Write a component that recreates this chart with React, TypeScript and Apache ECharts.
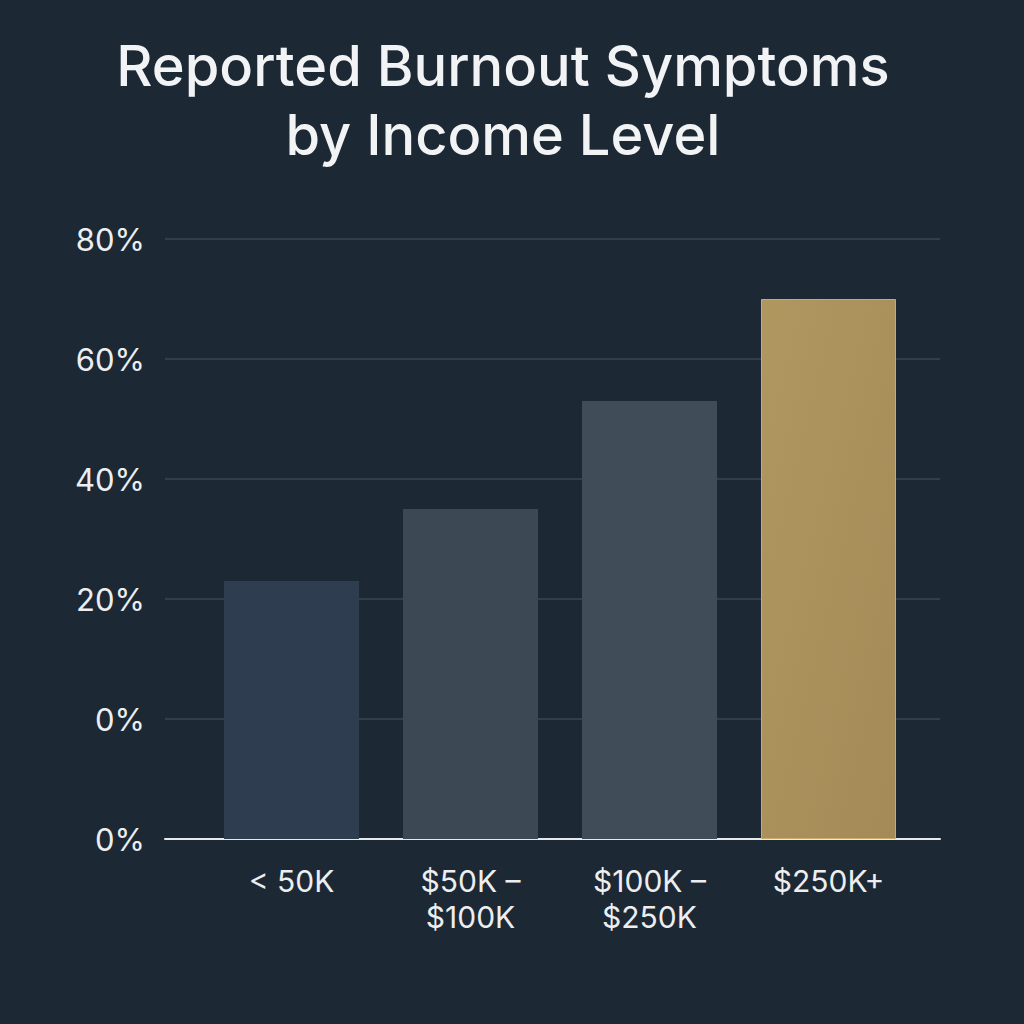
import { useEffect, useRef } from 'react';
import * as echarts from 'echarts';

const incomeLevels = ['< 50K', '$50K –\n$100K', '$100K –\n$250K', '$250K+'];
// share reporting burnout, read against the printed tick labels
const burnoutPct = [23, 35, 53, 70];
// the printed axis repeats "0%", so every label sits one step (20) above its position
const yTickLabels = ['0%', '0%', '20%', '40%', '60%', '80%'];
const AXIS_STEP = 20;

const barColors = ['#2e3d4f', '#3c4954', '#404d58'];

export default function App() {
  const chartRef = useRef<HTMLDivElement>(null);

  useEffect(() => {
    if (!chartRef.current) return;
    const chart = echarts.init(chartRef.current, null, { renderer: 'svg' });

    const font = 'Inter, "Noto Sans", sans-serif';
    const gridTop = 239;
    const gridBottom = 185;

    chart.setOption({
      animation: false,
      backgroundColor: '#1d2835',
      title: {
        text: 'Reported Burnout Symptoms\nby Income Level',
        // centre of the title sits a little left of the page centre
        left: 498,
        textAlign: 'center',
        top: 26,
        textStyle: {
          color: '#f2f3f4',
          fontFamily: font,
          fontSize: 56,
          fontWeight: 500,
          lineHeight: 69,
        },
      },
      grid: [
        // frame grid: gridlines, y labels and baseline
        { left: 165, right: 84, top: gridTop, bottom: gridBottom },
        // bar grid: narrower so the bands line up with the bars
        { left: 202, right: 106, top: gridTop, bottom: gridBottom },
      ],
      xAxis: [
        {
          type: 'category',
          gridIndex: 0,
          data: incomeLevels,
          axisLine: { show: true, lineStyle: { color: '#e6e8ea', width: 2 } },
          axisTick: { show: false },
          axisLabel: { show: false },
        },
        {
          type: 'category',
          gridIndex: 1,
          data: incomeLevels,
          axisLine: { show: false },
          axisTick: { show: false },
          axisLabel: {
            color: '#eceef0',
            fontFamily: font,
            fontSize: 30,
            lineHeight: 36,
            margin: 24,
          },
        },
      ],
      yAxis: [
        {
          type: 'value',
          gridIndex: 0,
          min: 0,
          max: 100,
          interval: AXIS_STEP,
          axisLine: { show: false },
          axisTick: { show: false },
          axisLabel: {
            color: '#eceef0',
            fontFamily: font,
            fontSize: 31,
            margin: 20,
            formatter: (v: number) => yTickLabels[Math.round(v / AXIS_STEP)],
          },
          splitLine: { lineStyle: { color: '#3a4655', width: 1.5 } },
        },
        {
          type: 'value',
          gridIndex: 1,
          min: 0,
          max: 100,
          interval: AXIS_STEP,
          show: false,
          splitLine: { show: false },
        },
      ],
      series: [
        {
          type: 'bar',
          xAxisIndex: 1,
          yAxisIndex: 1,
          barWidth: 135,
          data: burnoutPct.map((v, i) => ({
            value: v + AXIS_STEP,
            itemStyle:
              i < barColors.length
                ? { color: barColors[i] }
                : {
                    color: new echarts.graphic.LinearGradient(0, 0, 1, 1, [
                      { offset: 0, color: '#b0965f' },
                      { offset: 1, color: '#a48a57' },
                    ]),
                    borderColor: '#c9ab6c',
                    borderWidth: 1,
                  },
          })),
        },
      ],
    });

    return () => chart.dispose();
  }, []);

  return (
    <div
      ref={chartRef}
      style={{ position: 'fixed', left: 0, top: 0, width: 1024, height: 1024 }}
    />
  );
}
